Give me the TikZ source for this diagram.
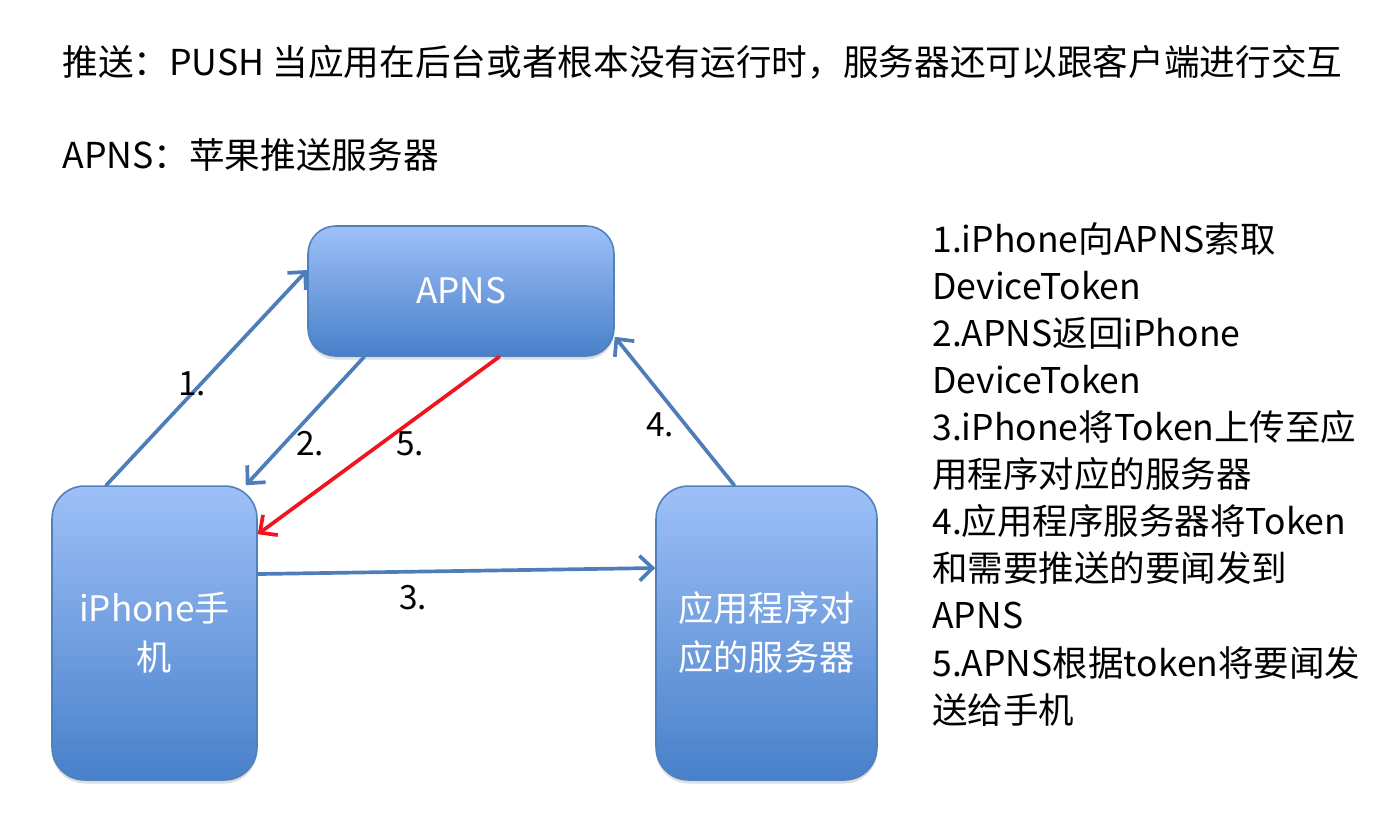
\documentclass[tikz,border=0pt]{standalone}
\usepackage{fontspec}
\setmainfont{Noto Sans CJK SC}
\usetikzlibrary{arrows.meta, positioning, shadows}
\definecolor{boxtop}{RGB}{158,192,247}
\definecolor{boxbot}{RGB}{72,128,202}
\definecolor{boxline}{RGB}{79,129,189}
\definecolor{flow}{RGB}{78,126,186}
\definecolor{push}{RGB}{240,20,30}

\begin{document}
\begin{tikzpicture}[x=0.02cm, y=-0.02cm, box/.style={draw=boxline, line width=0.9pt, rounded corners=0.55cm, top color=boxtop, bottom color=boxbot, text=white, align=center, font=\fontsize{20}{28}\selectfont, drop shadow={shadow xshift=0pt, shadow yshift=-2pt, opacity=0.25}}, arrow/.style={-{Straight Barb[length=2.6mm, width=5mm]}, line width=2.1pt, line cap=round, draw=flow}, num/.style={font=\fontsize{19}{19}\selectfont, inner sep=0pt}]
\useasboundingbox (0,0) rectangle (1388,822);
\node[anchor=west, inner sep=0pt, font=\fontsize{20.3}{20.3}\selectfont] (title) at (62,62) {推送：PUSH 当应用在后台或者根本没有运行时，服务器还可以跟客户端进行交互};
\node[anchor=west, inner sep=0pt, font=\fontsize{20.3}{20.3}\selectfont] (apnsdef) at (62,155) {APNS：苹果推送服务器};
\node[box, minimum width=6.12cm, minimum height=2.6cm] (apns) at (461,291) {APNS};
\node[box, minimum width=4.1cm, minimum height=5.88cm, rounded corners=0.65cm] (phone) at (154.5,633) {iPhone手\\机};
\node[box, minimum width=4.42cm, minimum height=5.88cm, rounded corners=0.65cm] (server) at (766.5,633) {应用程序对\\应的服务器};
% steps
\draw[arrow] ([xshift=1.1cm]phone.north west) -- ([yshift=0.42cm]apns.west);
\draw[arrow] ([xshift=1.14cm]apns.south west) -- ([xshift=-0.24cm]phone.north east);
\draw[arrow, draw=push] ([xshift=3.84cm]apns.south west) -- ([yshift=-0.98cm]phone.north east);
\draw[arrow] ([yshift=1.18cm]phone.east) -- ([yshift=1.3cm]server.west);
\draw[arrow] ([xshift=1.58cm]server.north west) -- ([yshift=0.4cm]apns.south east);
\node[num] (n1) at (192,384) {1.};
\node[num] (n2) at (310,444) {2.};
\node[num] (n5) at (410,444) {5.};
\node[num] (n4) at (660,425) {4.};
\node[num] (n3) at (413,598) {3.};
\node[anchor=north west, inner sep=0pt, align=left, font=\fontsize{20.2}{26.8}\selectfont] (steps) at (932,222) {1.iPhone向APNS索取\\DeviceToken\\2.APNS返回iPhone\\DeviceToken\\3.iPhone将Token上传至应\\用程序对应的服务器\\4.应用程序服务器将Token\\和需要推送的要闻发到\\APNS\\5.APNS根据token将要闻发\\送给手机};
\end{tikzpicture}
\end{document}
